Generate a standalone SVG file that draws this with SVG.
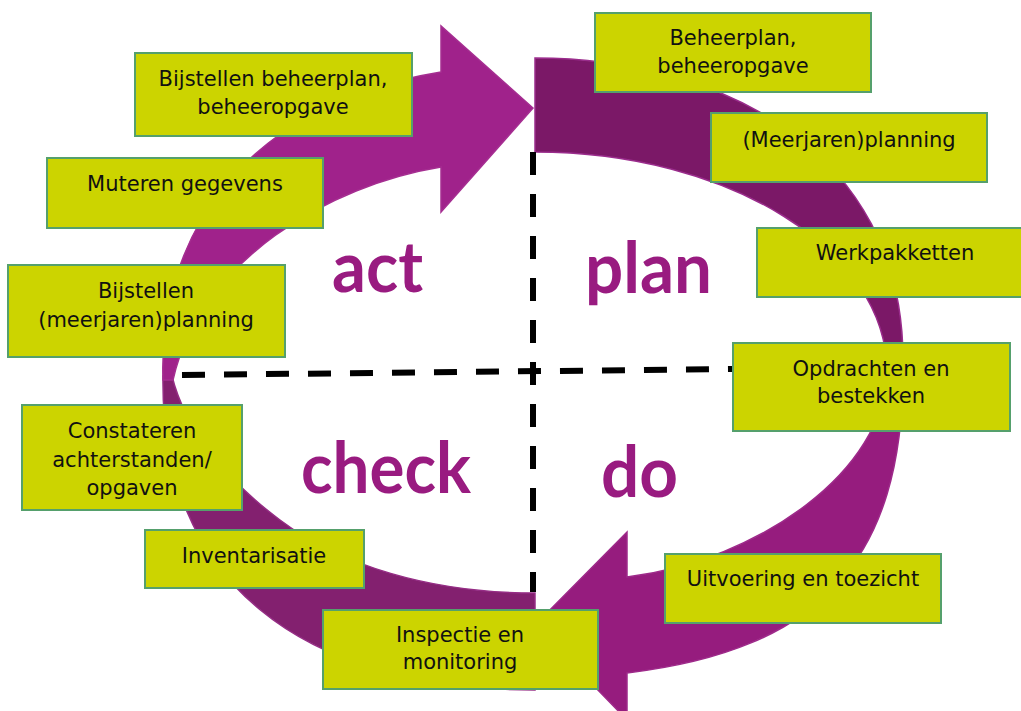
<svg xmlns="http://www.w3.org/2000/svg" width="1021" height="711" viewBox="0 0 1021 711">
  <style>
    .box { fill: #CCD400; stroke: #55A06C; stroke-width: 2; }
    .t { font-family: "DejaVu Sans", Verdana, sans-serif; font-size: 21px; fill: #111111; text-anchor: middle; }
    .big { font-family: Lato, "Open Sans", sans-serif; font-weight: bold; font-size: 70px; fill: #991B80; }
    .dash { stroke: #000000; stroke-width: 6; stroke-dasharray: 23 19; fill: none; }
    .arc { stroke-width: 1.5; }
  </style>
  <rect width="1021" height="711" fill="#FFFFFF"/>

  <g id="cycle">
    <path id="arc-plan" class="arc" fill="#7B1867" stroke="#9A2C8C" d="M 535,58 C 720,58 903,150 903,360 L 903,390 L 886,390 L 887,372 C 887,250 729,152 535,152 Z"/>
    <path id="arc-do" class="arc" fill="#961C7E" stroke="#9E2A8A" d="M 903,370 C 903,560 820,650 627,673 L 627,720 L 535,625 L 627,532 L 627,577 C 760,560 886,470 886,372 Z"/>
    <path id="arc-check" class="arc" fill="#83206F" stroke="#952D85" d="M 163,376 C 160,580 300,690 535,690 L 535,593 C 430,593 340,565 280,520 C 230,483 185,430 172,376 Z"/>
    <path id="arc-act" class="arc" fill="#A0228B" stroke="#A52E91" d="M 163,380 C 158,240 240,105 441,72 L 441,26 L 533,108 L 441,212 L 441,167 C 330,185 200,260 173,380 Z"/>
  </g>

  <g id="connectors">
    <line class="dash" x1="533" y1="152" x2="533" y2="592"/>
    <line class="dash" x1="182" y1="375" x2="733" y2="369"/>
  </g>

  <g id="labels">
    <text class="big" x="332" y="292" textLength="91" lengthAdjust="spacingAndGlyphs">act</text>
    <text class="big" x="585" y="293" textLength="127" lengthAdjust="spacingAndGlyphs">plan</text>
    <text class="big" x="301" y="493" textLength="170" lengthAdjust="spacingAndGlyphs">check</text>
    <text class="big" x="601" y="497" textLength="77" lengthAdjust="spacingAndGlyphs">do</text>
  </g>

  <g id="n-beheerplan">
    <rect class="box" x="595" y="13" width="276" height="79"/>
    <text class="t" x="733" y="45">Beheerplan,</text>
    <text class="t" x="733" y="73">beheeropgave</text>
  </g>
  <g id="n-bijstellen-beheerplan">
    <rect class="box" x="135" y="53" width="277" height="83"/>
    <text class="t" x="273" y="86">Bijstellen beheerplan,</text>
    <text class="t" x="273" y="114">beheeropgave</text>
  </g>
  <g id="n-muteren">
    <rect class="box" x="47" y="158" width="276" height="70"/>
    <text class="t" x="185" y="191">Muteren gegevens</text>
  </g>
  <g id="n-meerjarenplanning">
    <rect class="box" x="711" y="113" width="276" height="69"/>
    <text class="t" x="849" y="147">(Meerjaren)planning</text>
  </g>
  <g id="n-werkpakketten">
    <rect class="box" x="757" y="228" width="280" height="69"/>
    <text class="t" x="895" y="260">Werkpakketten</text>
  </g>
  <g id="n-opdrachten">
    <rect class="box" x="733" y="343" width="277" height="88"/>
    <text class="t" x="871" y="376">Opdrachten en</text>
    <text class="t" x="871" y="403">bestekken</text>
  </g>
  <g id="n-bijstellen-planning">
    <rect class="box" x="8" y="265" width="277" height="92"/>
    <text class="t" x="146" y="298">Bijstellen</text>
    <text class="t" x="146" y="327">(meerjaren)planning</text>
  </g>
  <g id="n-constateren">
    <rect class="box" x="22" y="405" width="220" height="105"/>
    <text class="t" x="132" y="438">Constateren</text>
    <text class="t" x="132" y="467">achterstanden/</text>
    <text class="t" x="132" y="495">opgaven</text>
  </g>
  <g id="n-inventarisatie">
    <rect class="box" x="145" y="530" width="219" height="58"/>
    <text class="t" x="254" y="563">Inventarisatie</text>
  </g>
  <g id="n-inspectie">
    <rect class="box" x="323" y="610" width="275" height="79"/>
    <text class="t" x="460" y="642">Inspectie en</text>
    <text class="t" x="460" y="669">monitoring</text>
  </g>
  <g id="n-uitvoering">
    <rect class="box" x="665" y="554" width="276" height="69"/>
    <text class="t" x="803" y="586">Uitvoering en toezicht</text>
  </g>
</svg>
